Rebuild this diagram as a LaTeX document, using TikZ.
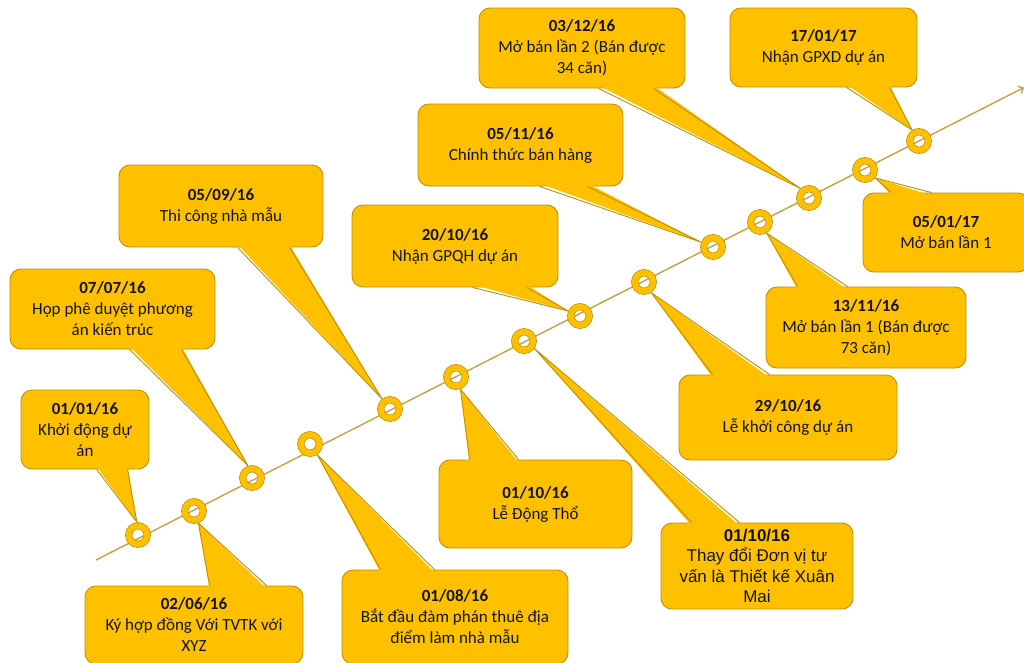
\documentclass[tikz,border=0pt]{standalone}
\usepackage{fontspec}
\setmainfont{Carlito}
\newfontfamily\arialf{Liberation Sans}
\usetikzlibrary{arrows.meta,calc}
\definecolor{goldc}{HTML}{FFC000}
\definecolor{bordc}{HTML}{C09000}
\definecolor{linec}{HTML}{C9A23C}
\definecolor{textc}{HTML}{141414}
\pgfdeclarelayer{front}
\pgfsetlayers{main,front}
\newcommand\calloutptr[6]{%
  \fill[goldc] ([xshift=#3,yshift=#6]#1.#2) -- ([xshift=#4,yshift=#6]#1.#2) -- (#5) -- cycle;
  \draw[bord] ([xshift=#3]#1.#2) -- (#5) -- ([xshift=#4]#1.#2);}
\tikzset{
  cbox/.style={rectangle, rounded corners=11pt, draw=bordc, line width=0.9pt, fill=goldc,
    align=center, text=textc, inner sep=0pt, font=\fontsize{17}{21}\selectfont},
  bord/.style={draw=bordc, line width=0.9pt, line join=round},
  ring/.style={circle, minimum size=18.5pt, inner sep=0pt, draw=bordc, line width=0.7pt,
    double=goldc, double distance=5.8pt, outer sep=3.6pt},
  tline/.style={draw=linec, line width=1.4pt}
}
\begin{document}
\begin{tikzpicture}[x=1pt,y=-1pt]
\useasboundingbox (0,0) rectangle (1024,662);
\clip (0,0) rectangle (1024,662);
\fill[white] (0,0) rectangle (1024,662);
% timeline
\coordinate (ts) at (96,560);
\coordinate (te) at (1024,87.5);
\draw[tline,-{Straight Barb[length=4pt,width=8pt]}] (ts) -- (te);
% rings
\begin{pgfonlayer}{front}
\node[ring] (c1) at (138,535) {};
\node[ring] (c2) at (194,511) {};
\node[ring] (c3) at (252,478) {};
\node[ring] (c4) at (310,444) {};
\node[ring] (c5) at (390,409) {};
\node[ring] (c6) at (456,377) {};
\node[ring] (c7) at (524,341) {};
\node[ring] (c8) at (580,316) {};
\node[ring] (c9) at (644,282) {};
\node[ring] (c10) at (713,247) {};
\node[ring] (c11) at (760,222) {};
\node[ring] (c12) at (809,198) {};
\node[ring] (c13) at (865,170) {};
\node[ring] (c14) at (919,141) {};
\end{pgfonlayer}
% callouts
\node[cbox, minimum width=128, minimum height=79] (A) at (85,429.5) {\textbf{01/01/16}\\Khởi động dự\\án};
\calloutptr{A}{south west}{76pt}{107pt}{c1.95}{3pt}
\node[cbox, minimum width=218, minimum height=78] (B) at (194,625) {\textbf{02/06/16}\\Ký hợp đồng Với TVTK với\\XYZ};
\calloutptr{B}{north west}{125pt}{182pt}{c2.-70}{-3pt}
\node[cbox, minimum width=205, minimum height=80] (C) at (112.5,309) {\textbf{07/07/16}\\Họp phê duyệt phương\\án kiến trúc};
\calloutptr{C}{south west}{120pt}{172pt}{c3.108}{3pt}
\node[cbox, minimum width=204, minimum height=82] (D) at (221,206) {\textbf{05/09/16}\\Thi công nhà mẫu};
\calloutptr{D}{south west}{119pt}{171pt}{c5.128}{3pt}
\node[cbox, minimum width=226, minimum height=94] (E) at (455,617) {\textbf{01/08/16}\\Bắt đầu đàm phán thuê địa\\điểm làm nhà mẫu};
\calloutptr{E}{north west}{39pt}{93pt}{c4.-56}{-3pt}
\node[cbox, minimum width=193, minimum height=88] (F) at (535.5,504) {\textbf{01/10/16}\\Lễ Động Thổ};
\calloutptr{F}{north west}{31pt}{80pt}{c6.-70}{-3pt}
\node[cbox, minimum width=192, minimum height=86, font=\arialf\fontsize{17}{20.5}\selectfont] (G) at (757,566) {\textbf{01/10/16}\\Thay đổi Đơn vị tư\\vấn là Thiết kế Xuân\\Mai};
\calloutptr{G}{north west}{31pt}{79pt}{c7.-36}{-3pt}
\node[cbox, minimum width=206, minimum height=82] (H) at (455,246) {\textbf{20/10/16}\\Nhận GPQH dự án};
\calloutptr{H}{south west}{121pt}{175pt}{c8.157}{3pt}
\node[cbox, minimum width=205, minimum height=82] (I) at (520.5,145) {\textbf{05/11/16}\\Chính thức bán hàng};
\calloutptr{I}{south west}{122pt}{170pt}{c10.158}{3pt}
\node[cbox, minimum width=218, minimum height=85] (J) at (788,417.5) {\textbf{29/10/16}\\Lễ khởi công dự án};
\calloutptr{J}{north west}{34pt}{91pt}{c9.-56}{-3pt}
\node[cbox, minimum width=200, minimum height=81] (K) at (866,327.5) {\textbf{13/11/16}\\Mở bán lần 1 (Bán được\\73 căn)};
\calloutptr{K}{north west}{32pt}{82pt}{c11.-59}{-3pt}
\node[cbox, minimum width=166, minimum height=79] (L) at (946,232.5) {\textbf{05/01/17}\\Mở bán lần 1};
\calloutptr{L}{north west}{29pt}{69pt}{c13.-38}{-3pt}
\node[cbox, minimum width=206, minimum height=80] (M) at (582,48) {\textbf{03/12/16}\\Mở bán lần 2 (Bán được\\34 căn)};
\calloutptr{M}{south west}{120pt}{175pt}{c12.132}{3pt}
\node[cbox, minimum width=187, minimum height=79] (N) at (823.5,47.5) {\textbf{17/01/17}\\Nhận GPXD dự án};
\calloutptr{N}{south west}{117pt}{160pt}{c14.122}{3pt}
\end{tikzpicture}
\end{document}
